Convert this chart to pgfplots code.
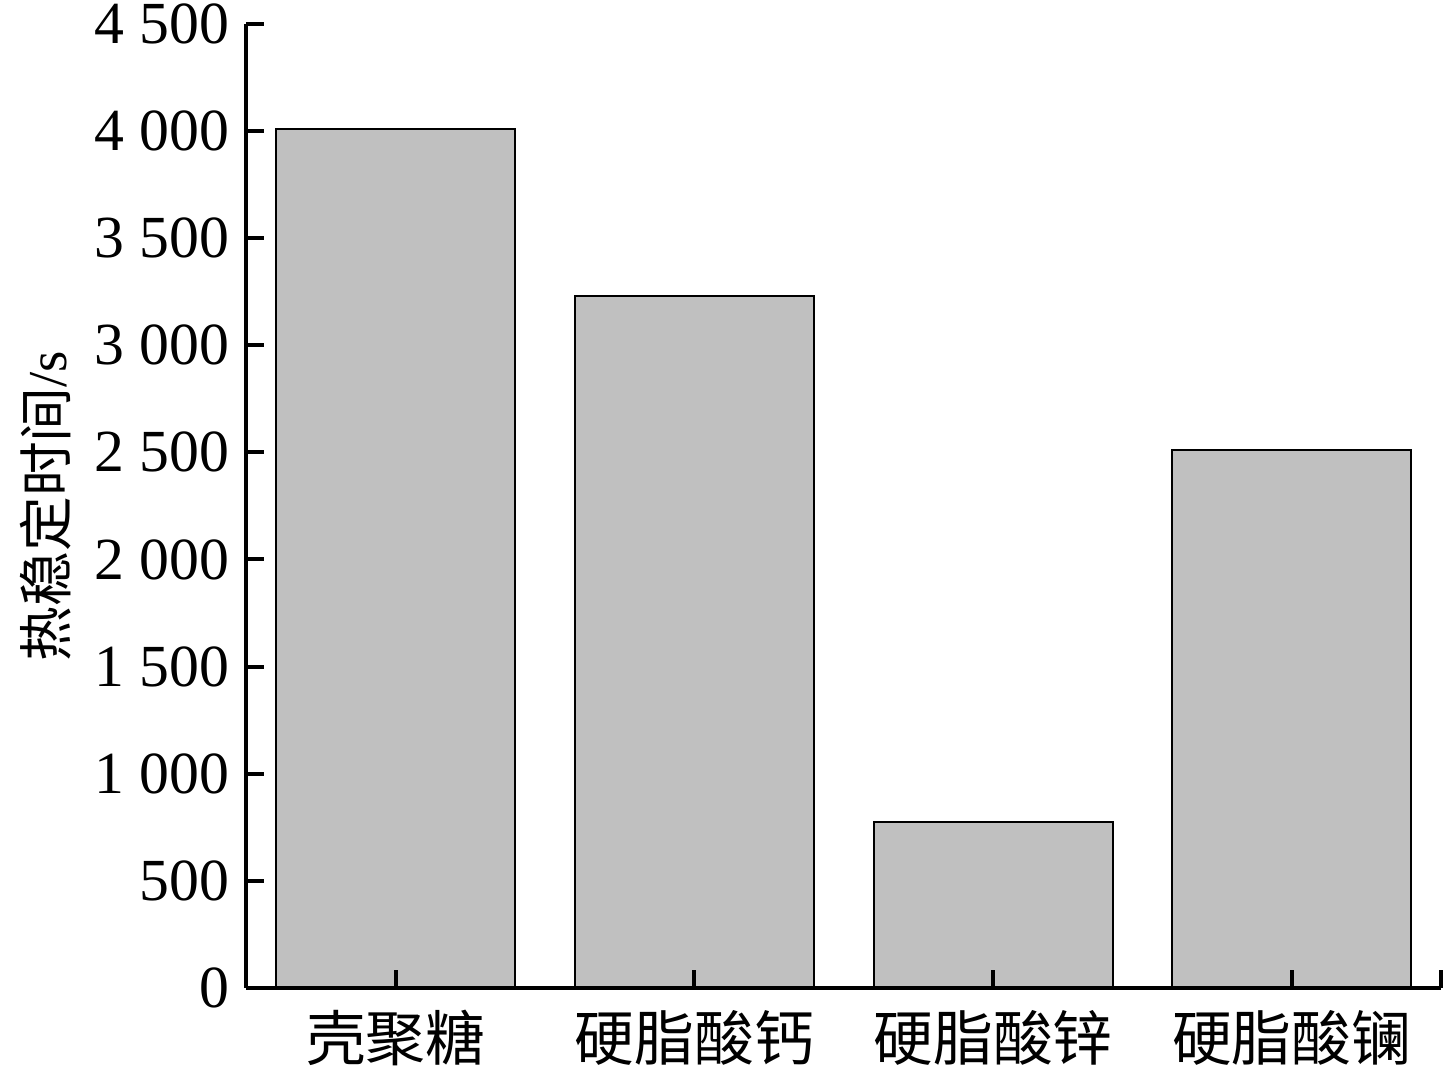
\documentclass[border=0pt]{standalone}
\usepackage{pgfplots}
\pgfplotsset{compat=1.18}
\usepackage{fontspec}
\setmainfont{Liberation Serif}
\newfontfamily\cjk{Noto Sans CJK SC}
\definecolor{barfill}{RGB}{192,192,192}
\begin{document}
\fontsize{18}{21}\selectfont
\begin{tikzpicture}
\begin{axis}[
  scale only axis,
  axis on top,
  width=360pt, height=290.4pt,
  xmin=-0.5, xmax=3.5, ymin=0, ymax=4500,
  axis x line=bottom, axis y line=left,
  axis line style={-, line width=1.2pt},
  tick align=inside,
  major tick length=5.4pt,
  tick style={line width=1.2pt, black},
  xtick={0,1,2,3},
  xticklabels={{\cjk 壳聚糖},{\cjk 硬脂酸钙},{\cjk 硬脂酸锌},{\cjk 硬脂酸镧}},
  extra x ticks={3.5}, extra x tick labels={},
  extra x tick style={xticklabel style={inner sep=0pt, overlay}},
  ytick={0,500,...,4500},
  /pgf/number format/assume math mode=true,
  /pgf/number format/1000 sep={\ },
  ticklabel style={font=\fontsize{18}{21}\selectfont},
  yticklabel style={inner ysep=1.2pt, inner xsep=5pt},
  ylabel={{\cjk 热稳定时间}/s},
  ylabel style={font=\fontsize{16.5}{20}\selectfont, yshift=-4pt},
  xticklabel style={inner ysep=0pt, yshift=-6.5pt},
]
\addplot[ybar, bar width=0.8, fill=barfill, draw=black, line width=0.6pt] coordinates {
  (0,4010) (1,3230) (2,772) (3,2510)
};
\end{axis}
\end{tikzpicture}
\end{document}
